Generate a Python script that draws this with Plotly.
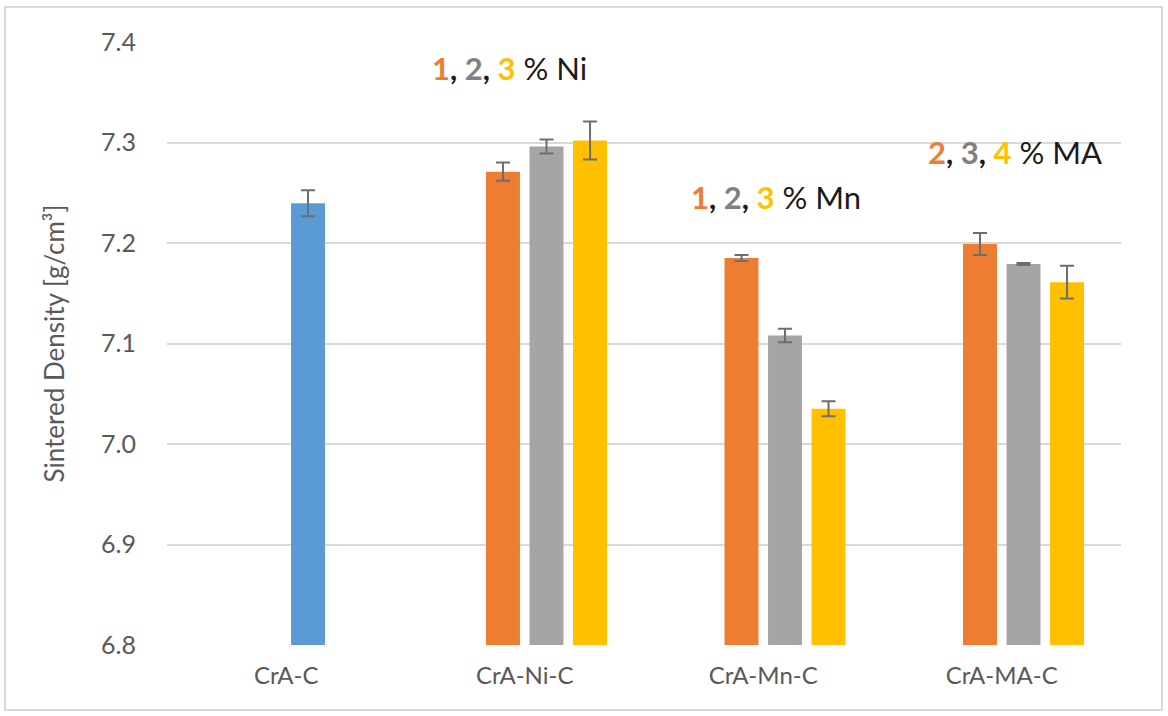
import plotly.graph_objects as go

# Alloy systems on the x axis
categories = ["CrA-C", "CrA-Ni-C", "CrA-Mn-C", "CrA-MA-C"]

# Sintered density [g/cm3] per addition level (low / mid / high)
unused_slot = [None, None, None, None]
density_low = [None, 7.271, 7.185, 7.199]
density_mid = [7.2395, 7.296, 7.108, 7.179]
density_high = [None, 7.302, 7.035, 7.161]

# Standard deviations
err_low = [0, 0.009, 0.003, 0.011]
err_mid = [0.013, 0.007, 0.0067, 0.001]
err_high = [0, 0.019, 0.0075, 0.0163]

y_ticks = [6.8, 6.9, 7.0, 7.1, 7.2, 7.3, 7.4]

BLUE = "#5B9BD5"
ORANGE = "#ED7D31"
GRAY = "#A5A5A5"
YELLOW = "#FFC000"
ERR = "#6E6E6E"
FONT = "Lato"

mid_colors = [BLUE, GRAY, GRAY, GRAY]

fig = go.Figure()
fig.add_trace(go.Bar(x=categories, y=unused_slot, showlegend=False, hoverinfo="skip"))
fig.add_trace(go.Bar(
    x=categories, y=density_low, marker=dict(color=ORANGE, line=dict(width=0)),
    error_y=dict(type="data", array=err_low, color=ERR, thickness=2, width=7),
    showlegend=False,
))
fig.add_trace(go.Bar(
    x=categories, y=density_mid, marker=dict(color=mid_colors, line=dict(width=0)),
    error_y=dict(type="data", array=err_mid, color=ERR, thickness=2, width=7),
    showlegend=False,
))
fig.add_trace(go.Bar(
    x=categories, y=density_high, marker=dict(color=YELLOW, line=dict(width=0)),
    error_y=dict(type="data", array=err_high, color=ERR, thickness=2, width=7),
    showlegend=False,
))


def level_label(nums, suffix):
    cols = [ORANGE, "#808080", YELLOW]
    parts = [f"<span style='color:{c}'>{n}</span>" for n, c in zip(nums, cols)]
    return "<b>" + "<span style='color:#1a1a1a'>, </span>".join(parts) + "</b> " + suffix


annotations = [
    (0.937, 7.374, level_label(["1", "2", "3"], "% Ni")),
    (2.054, 7.246, level_label(["1", "2", "3"], "% Mn")),
    (3.054, 7.291, level_label(["2", "3", "4"], "% MA")),
]
for ax, ay, txt in annotations:
    fig.add_annotation(
        x=ax, y=ay, xref="x", yref="y", text=txt, showarrow=False,
        font=dict(family=FONT, size=31, color="#1a1a1a"),
        xanchor="center", yanchor="middle",
    )

# chart-area border
fig.add_shape(
    type="rect", xref="paper", yref="paper",
    x0=-0.1698, x1=1.043, y0=-0.1078, y1=1.058,
    line=dict(color="#D9D9D9", width=2), fillcolor="rgba(0,0,0,0)", layer="below",
)

fig.update_layout(
    width=1168, height=716,
    margin=dict(l=167, r=47, t=42, b=71),
    paper_bgcolor="white", plot_bgcolor="white",
    barmode="group", bargap=0.27, bargroupgap=0.22,
    font=dict(family=FONT, color="#595959"),
    xaxis=dict(
        showgrid=False, showline=False, ticks="",
        tickfont=dict(family=FONT, size=24, color="#595959"),
        ticklabelstandoff=14,
    ),
    yaxis=dict(
        range=[6.8, 7.4], tickvals=y_ticks,
        ticktext=[f"{v:.1f}" for v in y_ticks],
        showgrid=True, gridcolor="#D9D9D9", gridwidth=1.5,
        zeroline=False, showline=False, ticks="",
        tickfont=dict(family=FONT, size=25, color="#595959"),
        ticklabelstandoff=30,
        title=dict(text="Sintered Density [g/cm³]",
                   font=dict(family=FONT, size=26, color="#595959"), standoff=28),
    ),
)

fig.write_html("out.html")
